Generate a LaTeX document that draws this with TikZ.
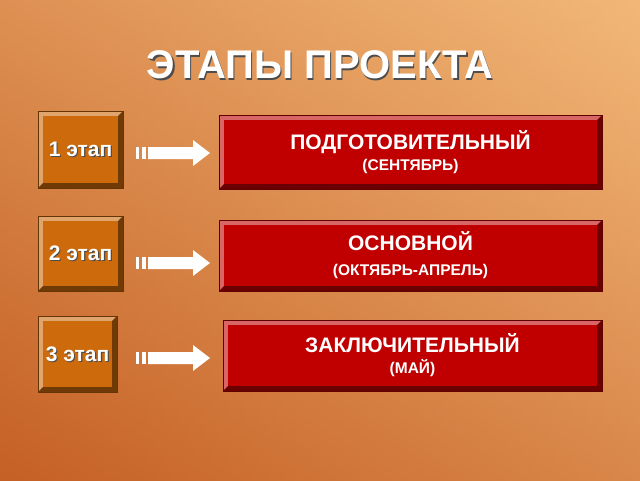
\documentclass[tikz,border=0pt]{standalone}
\usepackage{fontspec}
\setmainfont{Liberation Sans}
\usetikzlibrary{shadings}
\definecolor{bgA}{HTML}{F2B878}
\definecolor{bgB}{HTML}{C0561C}
\definecolor{stg}{HTML}{CC6A0C}
\definecolor{red1}{HTML}{C00000}
\newcommand\bvbox[6]{% x1,y1,x2,y2,color,name
  \fill[#5!60!white] (#1,#2) -- (#3,#2) -- (#3-5,#2+5) -- (#1+5,#2+5) -- (#1+5,#4-5) -- (#1,#4) -- cycle;
  \fill[#5!55!black] (#3,#4) -- (#1,#4) -- (#1+5,#4-5) -- (#3-5,#4-5) -- (#3-5,#2+5) -- (#3,#2) -- cycle;
  \fill[#5] (#1+5,#2+5) rectangle (#3-5,#4-5);
  \draw[#5!50!black,line width=0.6pt] (#1,#2) rectangle (#3,#4);
  \coordinate (#6) at ({(#1+#3)/2},{(#2+#4)/2});
}
\tikzset{
  wt/.style={text=white,font=\bfseries},
  sh/.style={text=black!70,font=\bfseries},
  arr/.style={fill=white,draw=none},
  big/.style={font=\bfseries\fontsize{21}{24}\selectfont},
}
\newcommand\subt[1]{{\fontsize{15.5}{18}\selectfont #1}}
\begin{document}
\begin{tikzpicture}[x=1pt,y=-1pt]
\useasboundingbox (0,0) rectangle (640,480);
\shade[shading=axis,shading angle=-135,top color=bgA,bottom color=bgB] (0,0) rectangle (640,480);
\shade[left color=bgB!80!bgA,right color=bgA,opacity=0.5] (0,0) rectangle (640,480);
% title
\node[sh,font=\bfseries\fontsize{40}{44}\selectfont] at (321.5,66.5) {ЭТАПЫ ПРОЕКТА};
\node[wt,font=\bfseries\fontsize{40}{44}\selectfont] (title) at (320,65) {ЭТАПЫ ПРОЕКТА};
% stage boxes
\bvbox{38}{111}{123}{188}{stg}{s1}
\bvbox{38}{216}{123}{291}{stg}{s2}
\bvbox{38}{316}{117}{392}{stg}{s3}
\bvbox{219}{115}{602}{189}{red1}{r1}
\bvbox{219}{220}{602}{291}{red1}{r2}
\bvbox{223}{320}{602}{391}{red1}{r3}
\foreach \n/\t in {s1/1 этап,s2/2 этап,s3/3 этап}{
  \node[sh,big] at ([shift={(1.2,1.2)}]\n) {\t};
  \node[wt,big] at (\n) {\t};
}
\node[wt,big,align=center] at (r1) {ПОДГОТОВИТЕЛЬНЫЙ\\[-3pt]\subt{(СЕНТЯБРЬ)}};
\node[wt,big,align=center] at (r2) {ОСНОВНОЙ\\[1pt]\subt{(ОКТЯБРЬ-АПРЕЛЬ)}};
\node[wt,big,align=center] at (r3) {ЗАКЛЮЧИТЕЛЬНЫЙ\\[-3pt]\subt{(МАЙ)}};
% arrows
\foreach \y in {153,263,358}{
  \fill[arr] (136,\y-6) rectangle (139,\y+6);
  \fill[arr] (142,\y-6) rectangle (146,\y+6);
  \fill[arr] (148,\y-6) -- (193,\y-6) -- (193,\y-13) -- (210,\y) -- (193,\y+13) -- (193,\y+6) -- (148,\y+6) -- cycle;
}
\end{tikzpicture}
\end{document}
